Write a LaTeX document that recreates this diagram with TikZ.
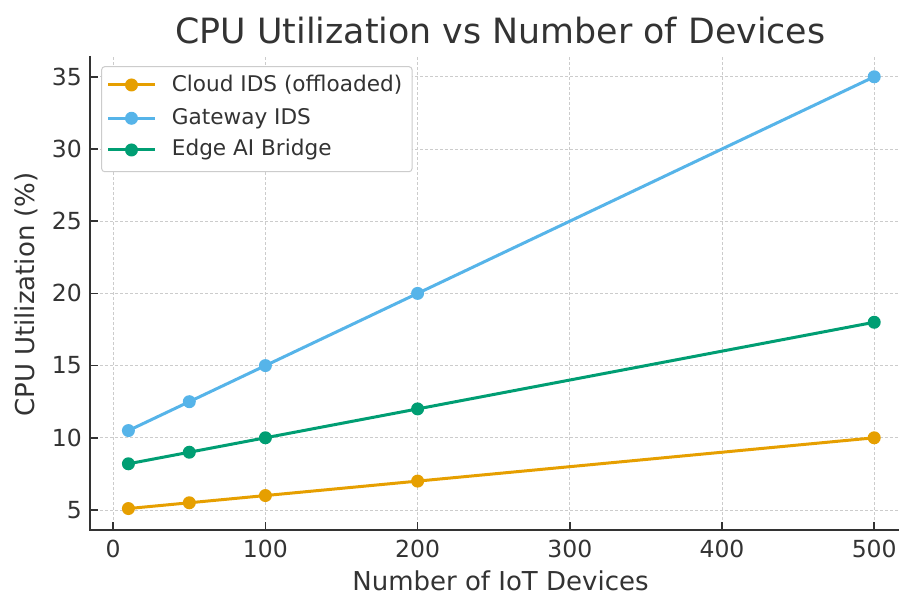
\documentclass[tikz,border=0pt]{standalone}
\usepackage{fontspec}
\setmainfont{DejaVu Sans}
\usepackage{tikz}
\usetikzlibrary{positioning, calc}

\definecolor{cloudc}{HTML}{E69F00}
\definecolor{gatec}{HTML}{56B4E9}
\definecolor{edgec}{HTML}{009E73}
\definecolor{inkc}{HTML}{333333}
\definecolor{gridc}{HTML}{CCCCCC}

\tikzset{
  gridline/.style={gridc, line width=0.8pt, dash pattern=on 3pt off 2pt},
  spine/.style={inkc, line width=1.6pt},
  series/.style={line width=3pt, line join=round},
  ticklab/.style={inkc, inner sep=0pt, font=\fontsize{23.5}{28}\selectfont},
  axislab/.style={inkc, inner sep=0pt, font=\fontsize{26}{30}\selectfont},
  legendlab/.style={inkc, inner sep=0pt, anchor=west, font=\fontsize{21.6}{26}\selectfont},
}

\begin{document}
\begin{tikzpicture}[x=1pt,y=1pt]
    \useasboundingbox[fill=white] (0,0) rectangle (899,593);

    % title
    \node[axislab, anchor=base, font=\fontsize{34.8}{40}\selectfont] (title) at (500.5,549.5)
        {CPU Utilization vs Number of Devices};

    % data area
    \begin{scope}[shift={(113.2,10.8)}, x=1.522pt, y=14.44pt]
        \foreach \d in {0,100,...,500}
            \draw[gridline] (\d,3.615) -- (\d,36.44);
        \foreach \v in {5,10,...,35}
            \draw[gridline] (-15.2,\v) -- (516.3,\v);

        \coordinate (tl) at (-15.2,36.44);
        \coordinate (o)  at (-15.2,3.615);
        \coordinate (br) at (516.3,3.615);
        \draw[spine] (tl) -- (o) -- (br);

        \foreach \d in {0,100,...,500} {
            \draw[spine] (\d,3.615) -- ++(0pt,8pt);
            \node[ticklab, anchor=north] (x\d) at ([yshift=-10pt]\d,3.615) {\d};
        }
        \foreach \v in {5,10,...,35} {
            \draw[spine] (-15.2,\v) -- ++(8pt,0pt);
            \node[ticklab, anchor=east] (y\v) at ([xshift=-8pt]-15.2,\v) {\v};
        }

        % cloud ids
        \coordinate (c1) at (10,5.1);
        \coordinate (c2) at (50,5.5);
        \coordinate (c3) at (100,6);
        \coordinate (c4) at (200,7);
        \coordinate (c5) at (500,10);
        % gateway ids
        \coordinate (g1) at (10,10.5);
        \coordinate (g2) at (50,12.5);
        \coordinate (g3) at (100,15);
        \coordinate (g4) at (200,20);
        \coordinate (g5) at (500,35);
        % edge ai bridge
        \coordinate (e1) at (10,8.2);
        \coordinate (e2) at (50,9);
        \coordinate (e3) at (100,10);
        \coordinate (e4) at (200,12);
        \coordinate (e5) at (500,18);

        \draw[series, cloudc] (c1) -- (c2) -- (c3) -- (c4) -- (c5);
        \draw[series, gatec]  (g1) -- (g2) -- (g3) -- (g4) -- (g5);
        \draw[series, edgec]  (e1) -- (e2) -- (e3) -- (e4) -- (e5);
        \foreach \s/\col in {c/cloudc, g/gatec, e/edgec}
            \foreach \i in {1,...,5}
                \fill[\col] (\s\i) circle[radius=6.5pt];
    \end{scope}

    % axis labels
    \node[axislab, anchor=base] (xlab) at (500.5,2.5) {Number of IoT Devices};
    \node[axislab, anchor=base, rotate=90] (ylab) at (34,298.5) {CPU Utilization (\%)};

    % legend
    \draw[gridc, line width=1pt, fill=white, rounded corners=3pt] (101.7,421.3) rectangle (412,526.3);
    \coordinate (l1a) at (108,508);   \coordinate (l1b) at (155,508);
    \coordinate (l2a) at (108,474.7); \coordinate (l2b) at (155,474.7);
    \coordinate (l3a) at (108,443);   \coordinate (l3b) at (155,443);
    \draw[series, cloudc] (l1a) -- (l1b);
    \draw[series, gatec]  (l2a) -- (l2b);
    \draw[series, edgec]  (l3a) -- (l3b);
    \fill[cloudc] ($(l1a)!0.5!(l1b)$) circle[radius=6.5pt];
    \fill[gatec]  ($(l2a)!0.5!(l2b)$) circle[radius=6.5pt];
    \fill[edgec]  ($(l3a)!0.5!(l3b)$) circle[radius=6.5pt];
    \node[legendlab] (leg1) at (171.7,508)   {Cloud IDS (offloaded)};
    \node[legendlab] (leg2) at (171.7,474.7) {Gateway IDS};
    \node[legendlab] (leg3) at (171.7,443)   {Edge AI Bridge};
\end{tikzpicture}
\end{document}
